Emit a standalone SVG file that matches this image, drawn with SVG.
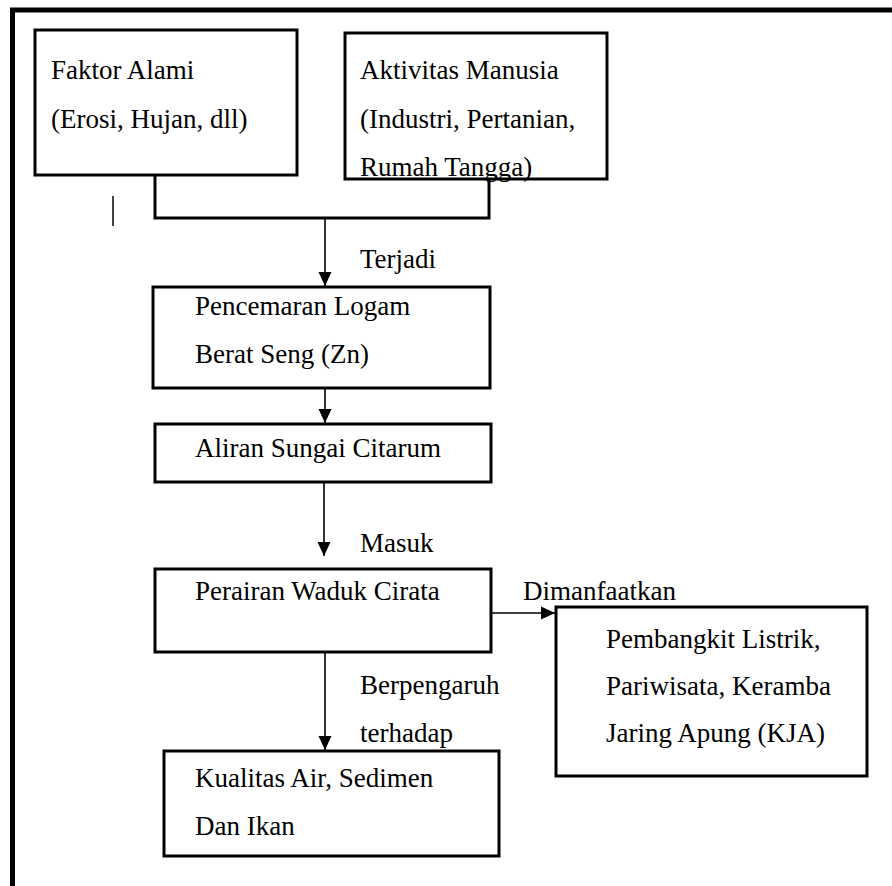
<svg xmlns="http://www.w3.org/2000/svg" width="892" height="886" viewBox="0 0 892 886">
<style>
.box{fill:#fff;stroke:#000;stroke-width:3}
.t{font-family:'Liberation Serif','Times New Roman',serif;font-size:27px;fill:#000}
.c{fill:none;stroke:#000;stroke-width:1.6}
.e{fill:none;stroke:#000;stroke-width:3}
</style>
<defs>
<marker id="ah" markerUnits="userSpaceOnUse" markerWidth="14" markerHeight="14" viewBox="0 0 14 14" refX="14" refY="7" orient="auto">
<path d="M0,0.5 L14,7 L0,13.5 Z" fill="#000"/>
</marker>
</defs>
<rect width="892" height="886" fill="#fff"/>
<g id="frame">
<path d="M12.5,886 V10 H892" fill="none" stroke="#000" stroke-width="5"/>
<line x1="113" y1="196" x2="113" y2="226" stroke="#000" stroke-width="1.5"/>
</g>
<g id="connectors">
<path class="e" d="M155,175 V218 H489 V179"/>
<line class="c" x1="325" y1="218" x2="325" y2="286" marker-end="url(#ah)"/>
<line class="c" x1="325" y1="388" x2="325" y2="423" marker-end="url(#ah)"/>
<line class="c" x1="324" y1="482" x2="324" y2="556" marker-end="url(#ah)"/>
<line class="c" x1="491" y1="613" x2="555" y2="613" marker-end="url(#ah)"/>
<line class="c" x1="325" y1="652" x2="325" y2="750" marker-end="url(#ah)"/>
<text class="t" x="360" y="268">Terjadi</text>
<text class="t" x="360" y="552">Masuk</text>
<text class="t" x="523" y="600">Dimanfaatkan</text>
<text class="t" x="360" y="694">Berpengaruh</text>
<text class="t" x="360" y="742">terhadap</text>
</g>
<g id="faktor-alami">
<rect class="box" x="35" y="30" width="262" height="145"/>
<text class="t" x="51" y="79">Faktor Alami</text>
<text class="t" x="51" y="128">(Erosi, Hujan, dll)</text>
</g>
<g id="aktivitas-manusia">
<rect class="box" x="345" y="33" width="262" height="146"/>
<text class="t" x="360" y="79">Aktivitas Manusia</text>
<text class="t" x="360" y="128">(Industri, Pertanian,</text>
<text class="t" x="360" y="176">Rumah Tangga)</text>
</g>
<g id="pencemaran">
<rect class="box" x="153" y="287" width="337" height="101"/>
<text class="t" x="195" y="315">Pencemaran Logam</text>
<text class="t" x="195" y="363">Berat Seng (Zn)</text>
</g>
<g id="aliran-sungai">
<rect class="box" x="155" y="424" width="336" height="58"/>
<text class="t" x="195" y="457">Aliran Sungai Citarum</text>
</g>
<g id="perairan-waduk">
<rect class="box" x="155" y="569" width="336" height="83"/>
<text class="t" x="195" y="600">Perairan Waduk Cirata</text>
</g>
<g id="pemanfaatan">
<rect class="box" x="556" y="607" width="311" height="169"/>
<text class="t" x="606" y="648">Pembangkit Listrik,</text>
<text class="t" x="606" y="695">Pariwisata, Keramba</text>
<text class="t" x="606" y="742">Jaring Apung (KJA)</text>
</g>
<g id="kualitas">
<rect class="box" x="164" y="751" width="335" height="105"/>
<text class="t" x="195" y="787">Kualitas Air, Sedimen</text>
<text class="t" x="195" y="835">Dan Ikan</text>
</g>
</svg>
